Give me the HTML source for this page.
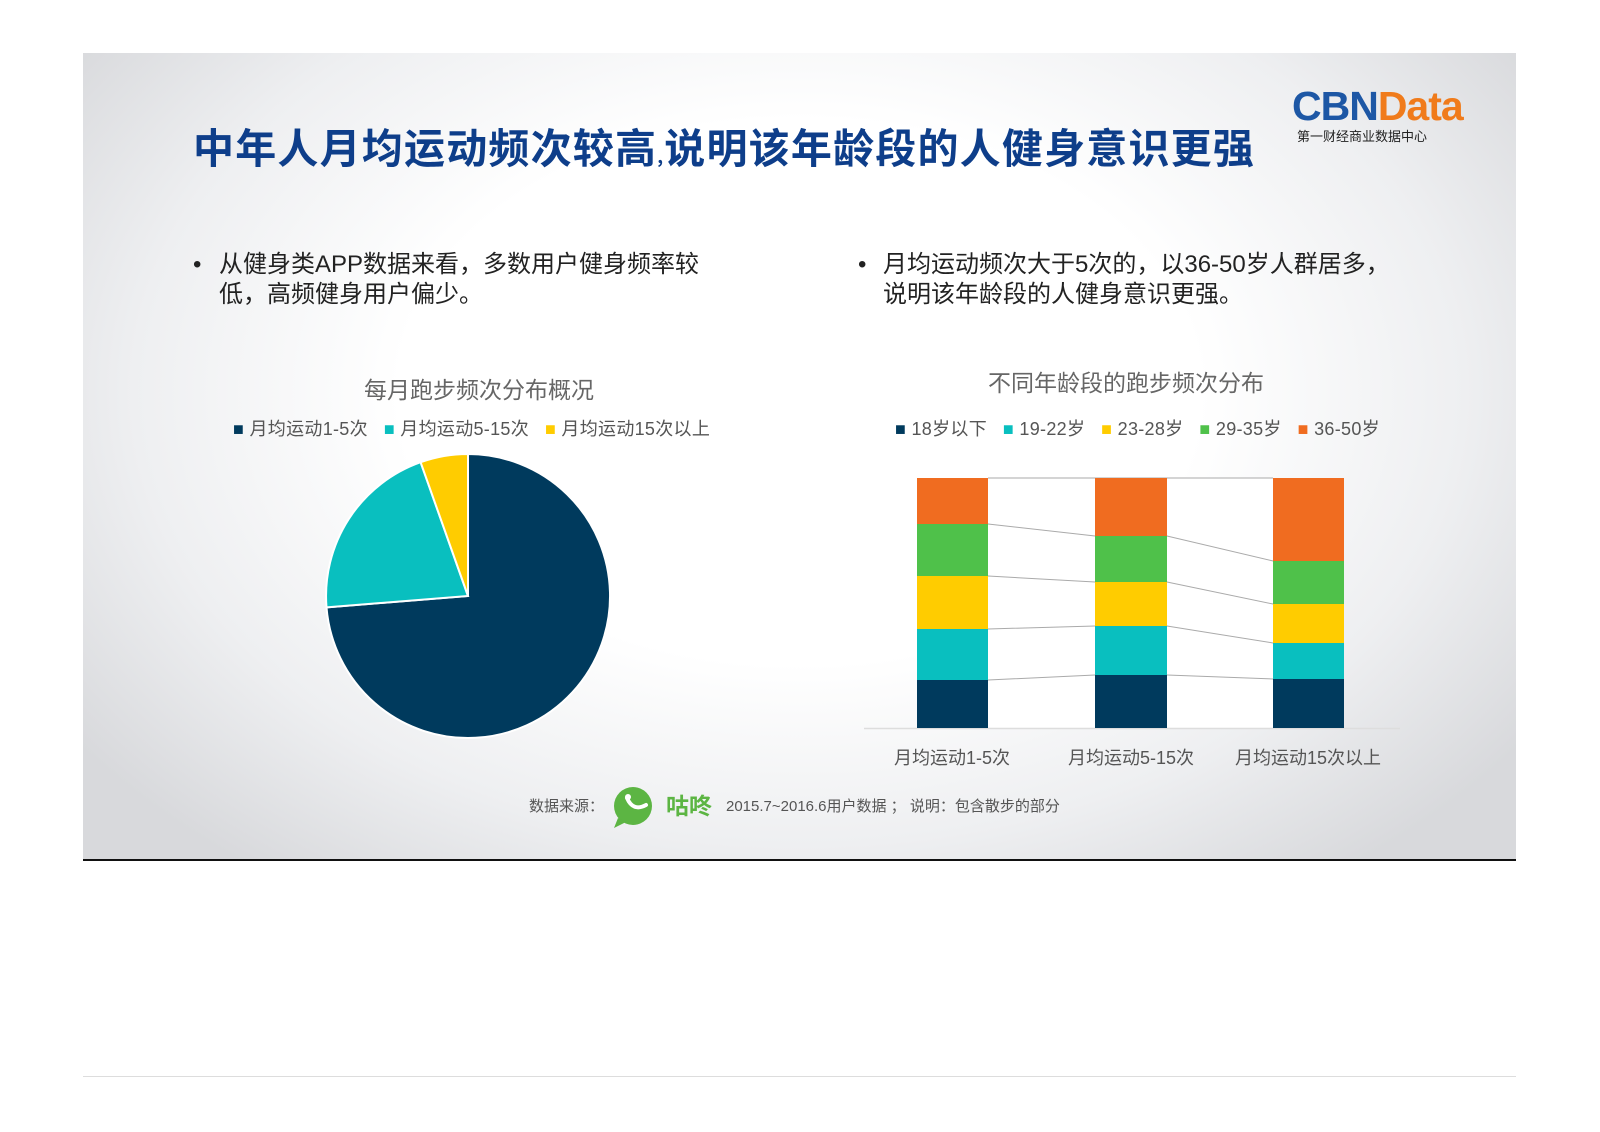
<!DOCTYPE html>
<html><head><meta charset="utf-8">
<style>
html,body{margin:0;padding:0;background:#fff;}
body{width:1600px;height:1132px;position:relative;overflow:hidden;font-family:"Liberation Sans","Noto Sans CJK SC",sans-serif;}
.slide{position:absolute;left:83px;top:53px;width:1433px;height:807px;
background:radial-gradient(ellipse 62% 75% at 50% 42%,#ffffff 0%,#ffffff 45%,#eeeff1 75%,#d8d9dc 100%);}
.bline{position:absolute;left:83px;top:859px;width:1433px;height:2px;background:#111;}
.t{position:absolute;white-space:nowrap;}
</style></head><body>
<div class="slide"></div>
<div class="bline"></div>
<div style="position:absolute;left:83px;top:1076px;width:1433px;height:1px;background:#ddd;"></div>
<div class="t" style="left:193px;top:118px;font-size:41px;font-weight:bold;color:#0e3e8a;font-family:'Noto Sans CJK SC',sans-serif;line-height:54px;letter-spacing:1.2px;">中年人月均运动频次较高<span style="font-size:18px">,</span>说明该年龄段的人健身意识更强</div>
<div class="t" style="left:1292px;top:84px;font-size:41px;font-weight:bold;line-height:44px;letter-spacing:-1px;"><span style="color:#1d57a5">CBN</span><span style="color:#f07b1b">Data</span></div>
<div class="t" style="left:1297px;top:127px;font-size:13px;color:#222;font-family:'Noto Sans CJK SC',sans-serif;line-height:18px;">第一财经商业数据中心</div>

<div class="t" style="left:193px;top:250px;font-size:24px;color:#222;line-height:30px;">•</div>
<div class="t" style="left:219px;top:250px;font-size:24px;color:#222;line-height:30px;">从健身类APP数据来看，多数用户健身频率较<br>低，高频健身用户偏少。</div>
<div class="t" style="left:858px;top:250px;font-size:24px;color:#222;line-height:30px;">•</div>
<div class="t" style="left:883px;top:250px;font-size:24px;color:#222;line-height:30px;">月均运动频次大于5次的，以36-50岁人群居多，<br>说明该年龄段的人健身意识更强。</div>

<div class="t" style="left:349px;top:375px;width:260px;text-align:center;font-size:23px;color:#666;line-height:30px;">每月跑步频次分布概况</div>
<div class="t" style="left:233px;top:417px;font-size:18px;color:#555;line-height:24px;letter-spacing:0.3px;"><span style="color:#003a5d">■</span> 月均运动1-5次 &nbsp;&nbsp;<span style="color:#09bfbf">■</span> 月均运动5-15次 &nbsp;&nbsp;<span style="color:#ffcc00">■</span> 月均运动15次以上</div>

<div class="t" style="left:988px;top:368px;width:260px;text-align:center;font-size:23px;color:#666;line-height:30px;">不同年龄段的跑步频次分布</div>
<div class="t" style="left:895px;top:417px;font-size:18px;color:#555;line-height:24px;letter-spacing:0.3px;"><span style="color:#003a5d">■</span> 18岁以下 &nbsp;&nbsp;<span style="color:#09bfbf">■</span> 19-22岁 &nbsp;&nbsp;<span style="color:#ffcc00">■</span> 23-28岁 &nbsp;&nbsp;<span style="color:#4fc14a">■</span> 29-35岁 &nbsp;&nbsp;<span style="color:#f06c20">■</span> 36-50岁</div>

<svg style="position:absolute;left:0;top:0" width="1600" height="1132">
<path d="M468,596 L468,454 A142,142 0 1 1 326.5,607.4 Z" fill="#003a5d" stroke="#fff" stroke-width="2"/>
<path d="M468,596 L326.5,607.4 A142,142 0 0 1 420.6,462.2 Z" fill="#09bfbf" stroke="#fff" stroke-width="2"/>
<path d="M468,596 L420.6,462.2 A142,142 0 0 1 468,454 Z" fill="#ffcc00" stroke="#fff" stroke-width="2"/>

<rect x="917" y="478" width="427" height="250" fill="#fff"/>
<line x1="864" y1="728.5" x2="1400" y2="728.5" stroke="#ddd" stroke-width="1.5"/>
<g stroke="#aaa" stroke-width="1" fill="none">
<polyline points="988,478 1095,478 1167,478 1273,478"/>
<polyline points="988,524 1095,536 1167,536 1273,561"/>
<polyline points="988,576 1095,582 1167,582 1273,604"/>
<polyline points="988,629 1095,626 1167,626 1273,643"/>
<polyline points="988,680 1095,675 1167,675 1273,679"/>
</g>
<g>
<rect x="917" y="478" width="71" height="46" fill="#f06c20"/>
<rect x="917" y="524" width="71" height="52" fill="#4fc14a"/>
<rect x="917" y="576" width="71" height="53" fill="#ffcc00"/>
<rect x="917" y="629" width="71" height="51" fill="#09bfbf"/>
<rect x="917" y="680" width="71" height="48" fill="#003a5d"/>

<rect x="1095" y="478" width="72" height="58" fill="#f06c20"/>
<rect x="1095" y="536" width="72" height="46" fill="#4fc14a"/>
<rect x="1095" y="582" width="72" height="44" fill="#ffcc00"/>
<rect x="1095" y="626" width="72" height="49" fill="#09bfbf"/>
<rect x="1095" y="675" width="72" height="53" fill="#003a5d"/>

<rect x="1273" y="478" width="71" height="83" fill="#f06c20"/>
<rect x="1273" y="561" width="71" height="43" fill="#4fc14a"/>
<rect x="1273" y="604" width="71" height="39" fill="#ffcc00"/>
<rect x="1273" y="643" width="71" height="36" fill="#09bfbf"/>
<rect x="1273" y="679" width="71" height="49" fill="#003a5d"/>
</g>
<circle cx="633" cy="806" r="19" fill="#5cb543"/>
<path d="M618,818 L614,828 L626,822 Z" fill="#5cb543"/>
<path d="M627,798 Q633,812 646,805" stroke="#fff" stroke-width="4" fill="none" stroke-linecap="round"/>
<circle cx="628" cy="797" r="3" fill="#fff"/>
</svg>

<div class="t" style="left:882px;top:746px;width:140px;text-align:center;font-size:18px;color:#555;line-height:24px;">月均运动1-5次</div>
<div class="t" style="left:1051px;top:746px;width:160px;text-align:center;font-size:18px;color:#555;line-height:24px;">月均运动5-15次</div>
<div class="t" style="left:1218px;top:746px;width:180px;text-align:center;font-size:18px;color:#555;line-height:24px;">月均运动15次以上</div>

<div class="t" style="left:529px;top:797px;font-size:15px;color:#555;line-height:20px;">数据来源：</div>
<div class="t" style="left:666px;top:791px;font-size:23px;color:#5cb543;font-weight:bold;line-height:30px;">咕咚</div>
<div class="t" style="left:726px;top:797px;font-size:15px;color:#555;line-height:20px;">2015.7~2016.6用户数据 ； 说明：包含散步的部分</div>
</body></html>
